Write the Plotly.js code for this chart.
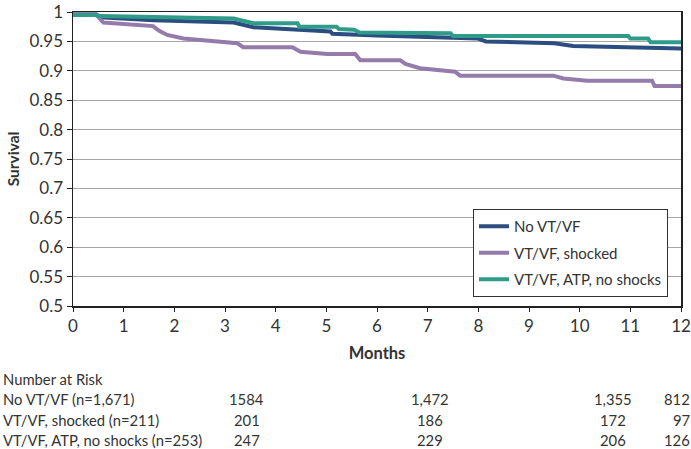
<!DOCTYPE html>
<html>
<head>
<meta charset="utf-8">
<script src="https://cdn.plot.ly/plotly-3.0.1.min.js"></script>
<style>
html,body{margin:0;padding:0;background:#fff;}
#chart{width:691px;height:449px;}
</style>
</head>
<body>
<div id="chart"></div>
<script>
// Survival curves
const noVtMonths = [0, 0.44, 0.54, 1.58, 3.17, 3.56, 5.08, 5.12, 6.0, 7.98, 8.15, 9.5, 9.87, 12];
const noVtSurv   = [1.0, 0.997, 0.991, 0.986, 0.982, 0.974, 0.967, 0.963, 0.960, 0.955, 0.950, 0.947, 0.942, 0.938];

const shockMonths = [0, 0.44, 0.6, 1.58, 1.7, 1.86, 2.18, 3.05, 3.24, 3.36, 4.33, 4.49, 5.02, 5.57, 5.67, 6.46, 6.56, 6.85, 7.54, 7.64, 9.48, 9.68, 10.15, 11.43, 11.48, 12];
const shockSurv   = [1.0, 0.997, 0.982, 0.976, 0.968, 0.961, 0.955, 0.948, 0.947, 0.940, 0.940, 0.9325, 0.9286, 0.9286, 0.918, 0.918, 0.9116, 0.9043, 0.8985, 0.8917, 0.8917, 0.887, 0.883, 0.883, 0.874, 0.874];

const atpMonths = [0, 0.44, 0.54, 3.17, 3.56, 4.43, 4.47, 5.2, 5.25, 5.55, 5.65, 7.45, 7.5, 10.96, 11.0, 11.35, 11.4, 12];
const atpSurv   = [0.995, 0.995, 0.993, 0.989, 0.981, 0.981, 0.975, 0.975, 0.971, 0.970, 0.965, 0.964, 0.959, 0.959, 0.955, 0.955, 0.9485, 0.9485];

const seriesNames = ["No VT/VF", "VT/VF, shocked", "VT/VF, ATP, no shocks"];
const seriesColors = ["#2c4d7f", "#957bab", "#2f9c8a"];

// Number-at-risk table
const riskTitle = "Number at Risk";
const riskRowLabels = ["No VT/VF (n=1,671)", "VT/VF, shocked (n=211)", "VT/VF, ATP, no shocks (n=253)"];
const riskValues = [
  ["1584", "1,472", "1,355", "812"],
  ["201", "186", "172", "97"],
  ["247", "229", "206", "126"]
];

const yTicks = [0.5, 0.55, 0.6, 0.65, 0.7, 0.75, 0.8, 0.85, 0.9, 0.95, 1];
const yTickText = ["0.5", "0.55", "0.6", "0.65", "0.7", "0.75", "0.8", "0.85", "0.9", "0.95", "1"];

const FONT = "Lato, 'Open Sans', sans-serif";
const TXT = "#333333";

const xs = [noVtMonths, shockMonths, atpMonths];
const ys = [noVtSurv, shockSurv, atpSurv];
const traces = xs.map((x, i) => ({
  x: x, y: ys[i], type: "scatter", mode: "lines",
  name: seriesNames[i], legendgroup: "g" + i,
  line: {color: seriesColors[i], width: 4}
}));

// Table annotations
const W = 691, H = 449, ml = 73, mr = 10, mt = 12, mb = 143;
const pw = W - ml - mr, ph = H - mt - mb;
function px2x(p){ return (p - ml) / pw; }
function py2y(p){ return (H - mb - p) / ph; }
const rowY = [399, 420, 440];
const colX = [247, 430, 613];
const TS = 14.8;
const ann = [];
ann.push({text: riskTitle, xref: "paper", yref: "paper", x: px2x(1), y: py2y(379),
  xanchor: "left", yanchor: "middle", showarrow: false, font: {family: FONT, size: TS, color: TXT}});
riskRowLabels.forEach((lab, r) => {
  ann.push({text: lab, xref: "paper", yref: "paper", x: px2x(1), y: py2y(rowY[r]),
    xanchor: "left", yanchor: "middle", showarrow: false, font: {family: FONT, size: TS, color: TXT}});
  riskValues[r].forEach((v, c) => {
    const last = c === 3;
    ann.push({text: v, xref: "paper", yref: "paper",
      x: last ? px2x(692) : px2x(colX[c]), y: py2y(rowY[r]),
      xanchor: last ? "right" : "center", yanchor: "middle", showarrow: false,
      font: {family: FONT, size: TS, color: TXT}});
  });
});

const layout = {
  width: W, height: H,
  margin: {l: ml, r: mr, t: mt, b: mb},
  paper_bgcolor: "#fff", plot_bgcolor: "#fff",
  font: {family: FONT, color: TXT},
  showlegend: true,
  legend: {
    x: px2x(473), y: py2y(209), xanchor: "left", yanchor: "top",
    bgcolor: "#fff", bordercolor: "#333", borderwidth: 1,
    font: {family: FONT, size: 15, color: TXT},
    traceorder: "grouped", tracegroupgap: 4
  },
  xaxis: {
    range: [0, 12], dtick: 1, tick0: 0,
    showgrid: false, zeroline: false,
    showline: true, linecolor: "#222", linewidth: 1.5, mirror: true,
    ticks: "outside", ticklen: 4, tickcolor: "#222",
    tickfont: {family: FONT, size: 17, color: TXT},
    title: {text: "<b>Months</b>", font: {family: FONT, size: 16.5, color: TXT}, standoff: 12}
  },
  yaxis: {
    range: [0.5, 1], tickvals: yTicks, ticktext: yTickText,
    showgrid: true, gridcolor: "#a6a6a6", gridwidth: 1,
    zeroline: false,
    showline: true, linecolor: "#222", linewidth: 1.5, mirror: true,
    ticks: "outside", ticklen: 5, tickcolor: "#222",
    tickfont: {family: FONT, size: 17, color: TXT},
    title: {text: "<b>Survival</b>", font: {family: FONT, size: 15.5, color: TXT}, standoff: 6}
  },
  annotations: ann
};

Plotly.newPlot("chart", traces, layout, {staticPlot: true, displayModeBar: false});
</script>
</body>
</html>
